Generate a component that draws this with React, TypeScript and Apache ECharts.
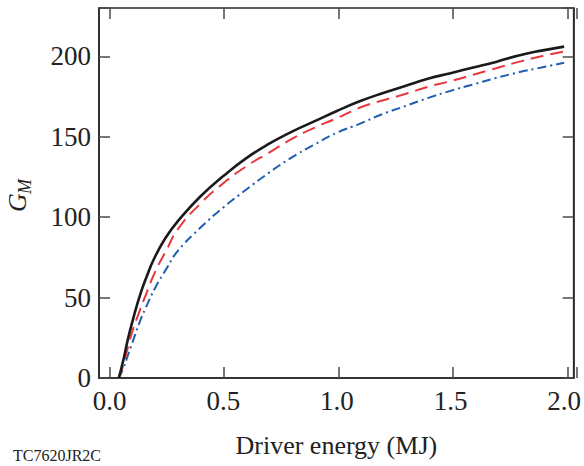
import React, { useEffect, useRef } from "react";
import * as echarts from "echarts";

const energy = [0.04, 0.06, 0.08, 0.1, 0.13, 0.16, 0.2, 0.25, 0.3, 0.4, 0.5, 0.6, 0.7, 0.8, 0.9, 1.0, 1.1, 1.2, 1.3, 1.4, 1.5, 1.6, 1.7, 1.8, 1.9, 2.0];
const solidG = [0, 11, 24, 35, 50, 62, 75.5, 88, 97.5, 113, 125.5, 136.5, 145.5, 153, 159.5, 166, 172, 177, 181.5, 186, 189.5, 193, 196.5, 200.5, 203.5, 206];
const dashedG = [0, 8, 19, 29, 41, 52, 66, 79.5, 92.5, 108.5, 121, 131.5, 140, 148.5, 155.5, 161.5, 168, 172.5, 176.5, 181, 184.5, 188.5, 192.5, 196.5, 200, 203];
const dashDotG = [0, 6, 14, 22, 34, 44, 56, 68, 79, 93.5, 106, 117, 127.5, 137, 145, 152.5, 158, 164, 169, 174, 178.5, 182.5, 186.5, 190, 193, 196];
const xTicks = [0, 0.5, 1.0, 1.5, 2.0];
const yTicks = [0, 50, 100, 150, 200];

const FONT = "'Liberation Serif', 'Times New Roman', serif";
const X_MIN = -0.047;
const X_MAX = 2.042;
const Y_MIN = 0;
const Y_MAX = 230;
const GRID_LEFT = 99;
const GRID_RIGHT = 7;
const GRID_W = 584 - GRID_LEFT - GRID_RIGHT;
const TICK_GRID_LEFT = GRID_LEFT + ((0 - X_MIN) / (X_MAX - X_MIN)) * GRID_W;

export default function App() {
  const ref = useRef<HTMLDivElement>(null);
  useEffect(() => {
    if (!ref.current) return;
    const chart = echarts.init(ref.current, null, { renderer: "svg" });
    const axisLine = { show: true, onZero: false, lineStyle: { color: "#2a2a2a", width: 1.6 } };
    const tick = { show: true, inside: true, length: 11, lineStyle: { color: "#4a4a4a", width: 1.5 } };
    const mk = (ys: number[]) => energy.map((e, i) => [e, ys[i]]);
    chart.setOption({
      animation: false,
      backgroundColor: "#fff",
      grid: [
        { left: GRID_LEFT, top: 8, right: GRID_RIGHT, bottom: 88, containLabel: false, show: true, borderColor: "#2a2a2a", borderWidth: 1.6 },
        { left: TICK_GRID_LEFT, top: 8, right: GRID_RIGHT, bottom: 88, containLabel: false },
      ],
      xAxis: [
        {
          gridIndex: 0, type: "value", min: X_MIN, max: X_MAX, position: "bottom",
          axisLine, axisTick: { show: false },
          splitLine: { show: false },
          axisLabel: { customValues: xTicks, formatter: (v: number) => v.toFixed(1), fontFamily: FONT, fontSize: 27, color: "#222", margin: 9 },
          name: "Driver energy (MJ)", nameLocation: "middle", nameGap: 54,
          nameTextStyle: { fontFamily: FONT, fontSize: 26, color: "#222" },
        },
        {
          gridIndex: 1, type: "value", min: 0, max: X_MAX, interval: 0.5, position: "bottom",
          axisLine: { show: false }, axisTick: tick, axisLabel: { show: false }, splitLine: { show: false },
        },
        {
          gridIndex: 1, type: "value", min: 0, max: X_MAX, interval: 0.5, position: "top",
          axisLine: { show: false }, axisTick: tick, axisLabel: { show: false }, splitLine: { show: false },
        },
      ],
      yAxis: [
        {
          gridIndex: 0, type: "value", min: Y_MIN, max: Y_MAX, interval: 50, position: "left",
          axisLine, axisTick: tick,
          splitLine: { show: false },
          axisLabel: { customValues: yTicks, fontFamily: FONT, fontSize: 27, color: "#222", margin: 8 },
        },
        {
          gridIndex: 0, type: "value", min: Y_MIN, max: Y_MAX, interval: 50, position: "right",
          axisLine, axisTick: tick, axisLabel: { show: false }, splitLine: { show: false },
        },
        {
          gridIndex: 1, type: "value", min: Y_MIN, max: Y_MAX, show: false,
        },
      ],
      graphic: [
        {
          type: "group", x: 17, y: 212, rotation: Math.PI / 2,
          children: [
            { type: "text", x: 0, y: 0, style: { text: "G", font: `italic 26px ${FONT}`, fill: "#222", textAlign: "left", textVerticalAlign: "middle" } },
            { type: "text", x: 18, y: 8, style: { text: "M", font: `italic 18px ${FONT}`, fill: "#222", textAlign: "left", textVerticalAlign: "middle" } },
          ],
        },
        { type: "text", left: 13, top: 447, style: { text: "TC7620JR2C", font: `16px ${FONT}`, fill: "#222" } },
      ],
      series: [
        { type: "line", xAxisIndex: 0, yAxisIndex: 0, data: mk(dashDotG), showSymbol: false, smooth: true, lineStyle: { color: "#1f5fb0", width: 2, type: [9, 4, 2, 4] } },
        { type: "line", xAxisIndex: 0, yAxisIndex: 0, data: mk(dashedG), showSymbol: false, smooth: true, lineStyle: { color: "#e8383d", width: 2, type: [13, 7] } },
        { type: "line", xAxisIndex: 0, yAxisIndex: 0, data: mk(solidG), showSymbol: false, smooth: true, lineStyle: { color: "#1a1a1a", width: 2.6 } },
        { type: "line", xAxisIndex: 1, yAxisIndex: 2, data: [], showSymbol: false },
        { type: "line", xAxisIndex: 2, yAxisIndex: 2, data: [], showSymbol: false },
        { type: "line", xAxisIndex: 0, yAxisIndex: 1, data: [], showSymbol: false },
      ],
    });
    return () => chart.dispose();
  }, []);
  return <div ref={ref} style={{ position: "absolute", left: 0, top: 0, width: 584, height: 466 }} />;
}
